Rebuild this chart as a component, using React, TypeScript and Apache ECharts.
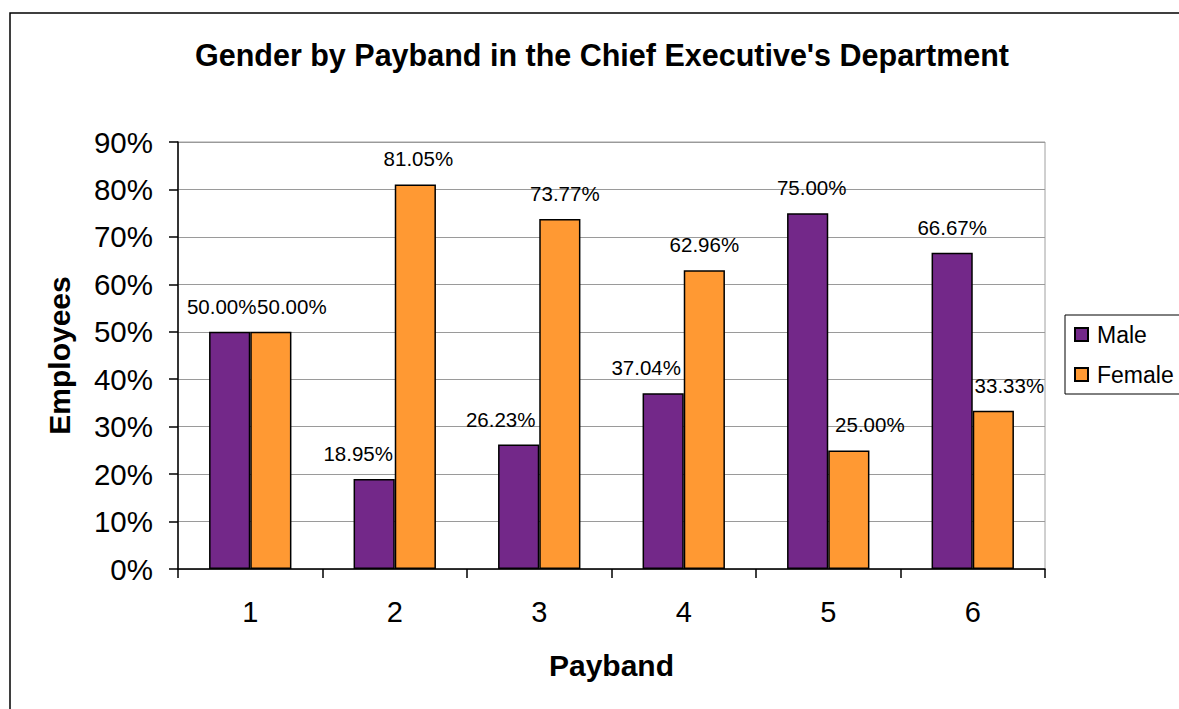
import React, { useEffect, useRef } from "react";
import * as echarts from "echarts";

const categories = ["1", "2", "3", "4", "5", "6"];
const maleValues = [50.0, 18.95, 26.23, 37.04, 75.0, 66.67];
const femaleValues = [50.0, 81.05, 73.77, 62.96, 25.0, 33.33];
const seriesNames = ["Male", "Female"];
const titleText = "Gender by Payband in the Chief Executive's Department";
const yAxisTitle = "Employees";
const xAxisTitle = "Payband";

// label nudges (styling only, horizontal px)
const maleLabelShift = [-8, -16, -18, -17, 4, 0];
const femaleLabelShift = [21, 3, 5, 0, 21, 16];

const FONT = "'Liberation Sans', Arial, sans-serif";

export default function App() {
  const ref = useRef<HTMLDivElement>(null);
  useEffect(() => {
    if (!ref.current) return;
    const chart = echarts.init(ref.current, null, { renderer: "svg" });
    const mkData = (vals: number[], shifts: number[]) =>
      vals.map((v, i) => ({ value: v, label: { offset: [shifts[i], 0] } }));
    const labelCfg = {
      show: true,
      position: "top",
      distance: 15,
      color: "#000",
      fontSize: 20.5,
      fontFamily: FONT,
      formatter: (p: any) => `${Number(p.value).toFixed(2)}%`,
    };
    chart.setOption({
      animation: false,
      backgroundColor: "#fff",
      textStyle: { fontFamily: FONT },
      graphic: [
        {
          type: "rect",
          shape: { x: 10, y: 13, width: 1200, height: 720 },
          style: { fill: "none", stroke: "#000", lineWidth: 1.5 },
          silent: true,
        },
        {
          type: "text",
          x: 602,
          y: 55,
          style: {
            text: titleText,
            textAlign: "center",
            textVerticalAlign: "middle",
            font: `bold 30.5px ${FONT}`,
            fill: "#000",
          },
        },
      ],
      legend: {
        orient: "vertical",
        left: 1065,
        top: 315,
        padding: [8, 10, 8, 9],
        itemGap: 17,
        itemWidth: 13,
        itemHeight: 13,
        borderColor: "#000",
        borderWidth: 1,
        icon: "rect",
        textStyle: { fontSize: 23, color: "#000", fontFamily: FONT, padding: [0, 0, 0, 4] },
        data: seriesNames,
      },
      grid: {
        left: 178,
        top: 142,
        right: 134,
        bottom: 140,
        show: true,
        borderColor: "#a0a0a0",
        borderWidth: 1,
      },
      xAxis: {
        type: "category",
        data: categories,
        name: xAxisTitle,
        nameLocation: "middle",
        nameGap: 81,
        nameTextStyle: { fontSize: 30, fontWeight: "bold", color: "#000", fontFamily: FONT, verticalAlign: "top" },
        axisLine: { lineStyle: { color: "#000", width: 1.5 } },
        axisTick: { show: true, length: 9, alignWithLabel: false, lineStyle: { color: "#000", width: 1.5 } },
        axisLabel: { fontSize: 29, color: "#000", margin: 28, fontFamily: FONT },
      },
      yAxis: {
        type: "value",
        min: 0,
        max: 90,
        interval: 10,
        name: yAxisTitle,
        nameLocation: "middle",
        nameGap: 104,
        nameRotate: 90,
        nameTextStyle: { fontSize: 30, fontWeight: "bold", color: "#000", fontFamily: FONT },
        axisLine: { show: true, lineStyle: { color: "#000", width: 1.5 } },
        axisTick: { show: true, length: 9, lineStyle: { color: "#000", width: 1.5 } },
        axisLabel: { fontSize: 29.5, color: "#000", margin: 25, fontFamily: FONT, formatter: (v: number) => `${v}%` },
        splitLine: { show: true, lineStyle: { color: "#9a9a9a", width: 1 } },
      },
      series: [
        {
          name: seriesNames[0],
          type: "bar",
          data: mkData(maleValues, maleLabelShift),
          barGap: "0%",
          barCategoryGap: "43%",
          itemStyle: { color: "#732889", borderColor: "#000", borderWidth: 1.5 },
          label: labelCfg,
        },
        {
          name: seriesNames[1],
          type: "bar",
          data: mkData(femaleValues, femaleLabelShift),
          barGap: "0%",
          barCategoryGap: "43%",
          itemStyle: { color: "#ff9933", borderColor: "#000", borderWidth: 1.5 },
          label: labelCfg,
        },
      ],
    });
    return () => chart.dispose();
  }, []);
  return (
    <div
      ref={ref}
      style={{ position: "absolute", left: 0, top: 0, width: 1179, height: 709 }}
    />
  );
}
